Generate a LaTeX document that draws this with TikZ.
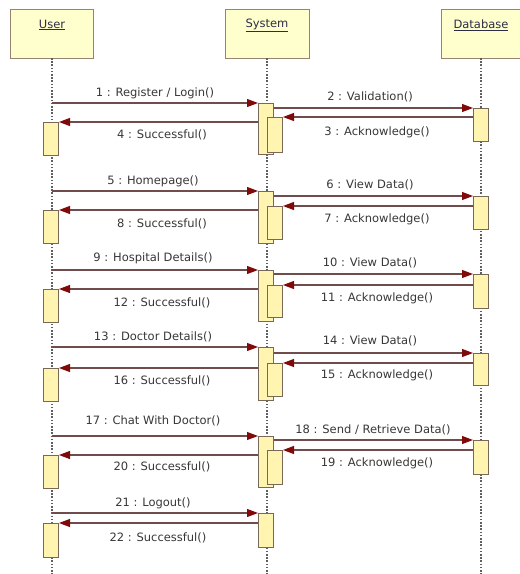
\documentclass[tikz,border=0pt]{standalone}
\usepackage{fontspec}
\setmainfont{DejaVu Sans}
\usetikzlibrary{arrows.meta}
\definecolor{hdrfill}{RGB}{255,255,206}
\definecolor{hdrline}{RGB}{150,132,112}
\definecolor{actfill}{RGB}{255,244,176}
\definecolor{actline}{RGB}{120,104,88}
\definecolor{msgline}{RGB}{112,76,76}
\definecolor{tipred}{RGB}{128,10,10}
\definecolor{lifegray}{RGB}{95,95,95}
\definecolor{txtgray}{RGB}{55,55,55}
\definecolor{hdrtxtc}{RGB}{45,45,70}
\newcommand\actbox[4]{\node[act,anchor=north west,minimum height={(#4)-(#3)}] (#1) at (#2,#3) {};}
\begin{document}
\begin{tikzpicture}[x=1pt,y=-1pt,
  font=\fontsize{11.5}{13}\selectfont,
  hdr/.style={draw=hdrline,fill=hdrfill,line width=1pt,inner sep=0pt,anchor=north west},
  hdrtxt/.style={text=hdrtxtc,inner sep=0pt},
  act/.style={draw=actline,fill=actfill,line width=1pt,inner sep=0pt,minimum width=15},
  life/.style={draw=lifegray,line width=1.3pt,dash pattern=on 1.6pt off 1.6pt},
  msg/.style={draw=msgline,line width=1.1pt,-{Triangle[length=11pt,width=8pt,color=tipred,fill=tipred]}},
  lbl/.style={text=txtgray,inner sep=0pt}]
\useasboundingbox (0,0) rectangle (520,574);
\fill[white] (0,0) rectangle (520,574);
% headers
\node[hdr,minimum width=83,minimum height=49] (hu) at (10,9) {};
\node[hdr,minimum width=84,minimum height=49] (hs) at (225,9) {};
\node[hdr,minimum width=79,minimum height=49] (hd) at (441,9) {};
\node[hdrtxt] (tu) at (52,25) {\underline{User}};
\node[hdrtxt] (ts) at (267,25) {\underline{System}};
\node[hdrtxt] (td) at (481,25) {\underline{Database}};
% lifelines
\coordinate (ulx) at (52,58);
\coordinate (slx) at (267,58);
\coordinate (dlx) at (481,58);
\coordinate (ule) at (52,574);
\coordinate (sle) at (267,574);
\coordinate (dle) at (481,574);
\draw[life] (ulx) -- (ule);
\draw[life] (slx) -- (sle);
\draw[life] (dlx) -- (dle);
% activations
\actbox{s1}{258}{103}{154} \actbox{n1}{267}{117}{152} \actbox{d1}{473}{108}{141} \actbox{u1}{43}{122}{155}
\actbox{s2}{258}{191}{243} \actbox{n2}{267}{206}{239} \actbox{d2}{473}{196}{229} \actbox{u2}{43}{210}{243}
\actbox{s3}{258}{270}{321} \actbox{n3}{267}{285}{317} \actbox{d3}{473}{274}{308} \actbox{u3}{43}{289}{322}
\actbox{s4}{258}{347}{400} \actbox{n4}{267}{363}{396} \actbox{d4}{473}{353}{385} \actbox{u4}{43}{368}{401}
\actbox{s5}{258}{436}{487} \actbox{n5}{267}{450}{484} \actbox{d5}{473}{440}{474} \actbox{u5}{43}{455}{488}
\actbox{s6}{258}{513}{547} \actbox{u6}{43}{523}{557}
% messages
\foreach \i in {1,...,5}{
  \draw[msg] (ulx |- s\i.north west) -- (s\i.north west);
  \draw[msg] (s\i.east |- d\i.north) -- (d\i.north west);
  \draw[msg] (d\i.west |- n\i.north) -- (n\i.north east);
  \draw[msg] (s\i.west |- u\i.north) -- (u\i.north east);
}
\draw[msg] (ulx |- s6.north west) -- (s6.north west);
\draw[msg] (s6.west |- u6.north) -- (u6.north east);
% labels
\node[lbl] (l1) at (155,93) {1 : Register / Login()};
\node[lbl] (l2) at (370,97) {2 : Validation()};
\node[lbl] (l3) at (377,132) {3 : Acknowledge()};
\node[lbl] (l4) at (162,135) {4 : Successful()};
\node[lbl] (l5) at (153,181) {5 : Homepage()};
\node[lbl] (l6) at (370,185) {6 : View Data()};
\node[lbl] (l7) at (377,219) {7 : Acknowledge()};
\node[lbl] (l8) at (162,224) {8 : Successful()};
\node[lbl] (l9) at (153,258) {9 : Hospital Details()};
\node[lbl] (l10) at (370,263) {10 : View Data()};
\node[lbl] (l11) at (377,298) {11 : Acknowledge()};
\node[lbl] (l12) at (162,303) {12 : Successful()};
\node[lbl] (l13) at (153,337) {13 : Doctor Details()};
\node[lbl] (l14) at (370,341) {14 : View Data()};
\node[lbl] (l15) at (377,375) {15 : Acknowledge()};
\node[lbl] (l16) at (162,381) {16 : Successful()};
\node[lbl] (l17) at (153,421) {17 : Chat With Doctor()};
\node[lbl] (l18) at (373,430) {18 : Send / Retrieve Data()};
\node[lbl] (l19) at (377,463) {19 : Acknowledge()};
\node[lbl] (l20) at (162,467) {20 : Successful()};
\node[lbl] (l21) at (153,503) {21 : Logout()};
\node[lbl] (l22) at (158,538) {22 : Successful()};
\end{tikzpicture}
\end{document}
